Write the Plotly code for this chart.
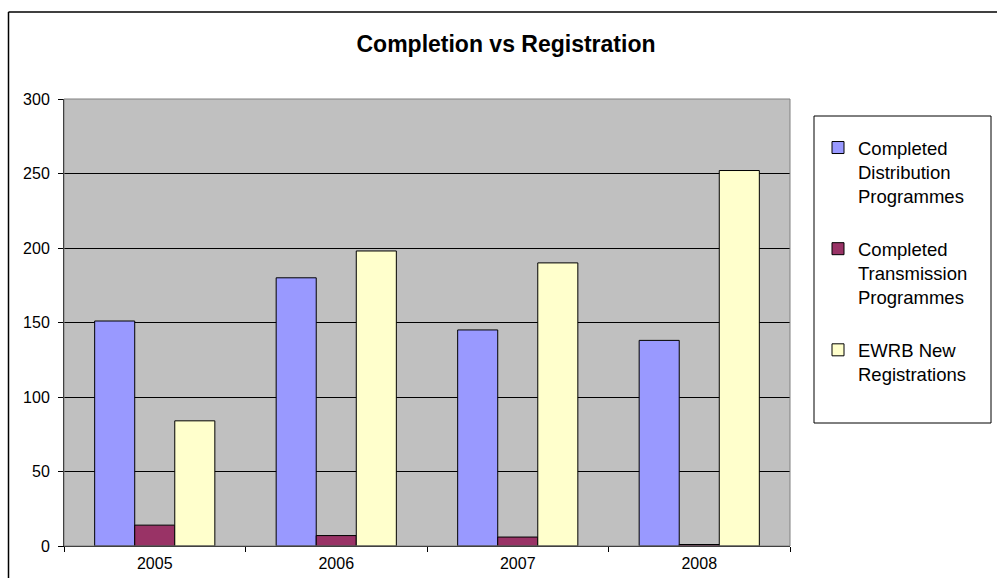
import plotly.graph_objects as go

years = ["2005", "2006", "2007", "2008"]
series_names = [
    "Completed<br>Distribution<br>Programmes",
    "Completed<br>Transmission<br>Programmes",
    "EWRB New<br>Registrations",
]
distribution = [151, 180, 145, 138]
transmission = [14, 7, 6, 1]
registrations = [84, 198, 190, 252]
y_ticks = [0, 50, 100, 150, 200, 250, 300]

colors = ["#9999FF", "#993366", "#FFFFCC"]
FONT = "Arial, Liberation Sans, sans-serif"

W, H = 997, 578
L, R, T, B = 64, 790, 99, 546  # plot area in pixels


def px_x(x):
    return (x - L) / (R - L)


def px_y(y):
    return (B - y) / (B - T)


fig = go.Figure()
for i, (name, vals) in enumerate(zip(series_names, [distribution, transmission, registrations])):
    fig.add_trace(
        go.Bar(
            x=years,
            y=vals,
            name=name,
            legendgroup=f"g{i}",
            marker=dict(color=colors[i], line=dict(color="black", width=1)),
        )
    )

shapes = [
    # legend box
    dict(type="rect", xref="paper", yref="paper",
         x0=px_x(814), x1=px_x(991), y0=px_y(423), y1=px_y(116),
         line=dict(color="black", width=1), fillcolor="white", layer="below"),
    # outer chart border (left and top visible)
    dict(type="line", xref="paper", yref="paper",
         x0=px_x(8.5), x1=px_x(8.5), y0=px_y(12), y1=px_y(600),
         line=dict(color="black", width=1.5)),
    dict(type="line", xref="paper", yref="paper",
         x0=px_x(8.5), x1=px_x(1010), y0=px_y(12), y1=px_y(12),
         line=dict(color="black", width=1.5)),
    # plot area border on top/right
    dict(type="rect", xref="paper", yref="paper", x0=0, x1=1, y0=0, y1=1,
         line=dict(color="#808080", width=1)),
]

fig.update_layout(
    width=W,
    height=H,
    margin=dict(l=L, r=W - R, t=T, b=H - B, autoexpand=False),
    paper_bgcolor="white",
    plot_bgcolor="#C0C0C0",
    font=dict(family=FONT, color="black", size=16),
    title=dict(text="<b>Completion vs Registration</b>", x=506 / W, xref="container",
               xanchor="center", y=1 - 44 / H, yref="container", yanchor="middle",
               font=dict(size=23, family=FONT)),
    barmode="group",
    bargap=0.338,
    bargroupgap=0,
    xaxis=dict(
        showline=True, linecolor="black", linewidth=1,
        ticks="outside", ticklen=5, tickcolor="black", tickson="boundaries",
        showgrid=False, tickfont=dict(size=16), ticklabelstandoff=3,
    ),
    yaxis=dict(
        range=[0, 300], tickvals=y_ticks,
        showline=True, linecolor="black", linewidth=1,
        ticks="outside", ticklen=5, tickcolor="black",
        showgrid=True, gridcolor="black", gridwidth=1,
        zeroline=False, tickfont=dict(size=16), ticklabelstandoff=5,
    ),
    showlegend=True,
    legend=dict(
        x=px_x(818), y=px_y(129), xanchor="left", yanchor="top",
        bgcolor="rgba(0,0,0,0)", borderwidth=0,
        font=dict(size=18.5, family=FONT),
        tracegroupgap=26, traceorder="grouped", valign="top",
    ),
    shapes=shapes,
)

# drop the default page margin so the figure sits at the window origin
fig.write_html(
    "out.html",
    config={"displayModeBar": False},
    post_script="document.body.style.margin='0';document.body.style.overflow='hidden';",
)
